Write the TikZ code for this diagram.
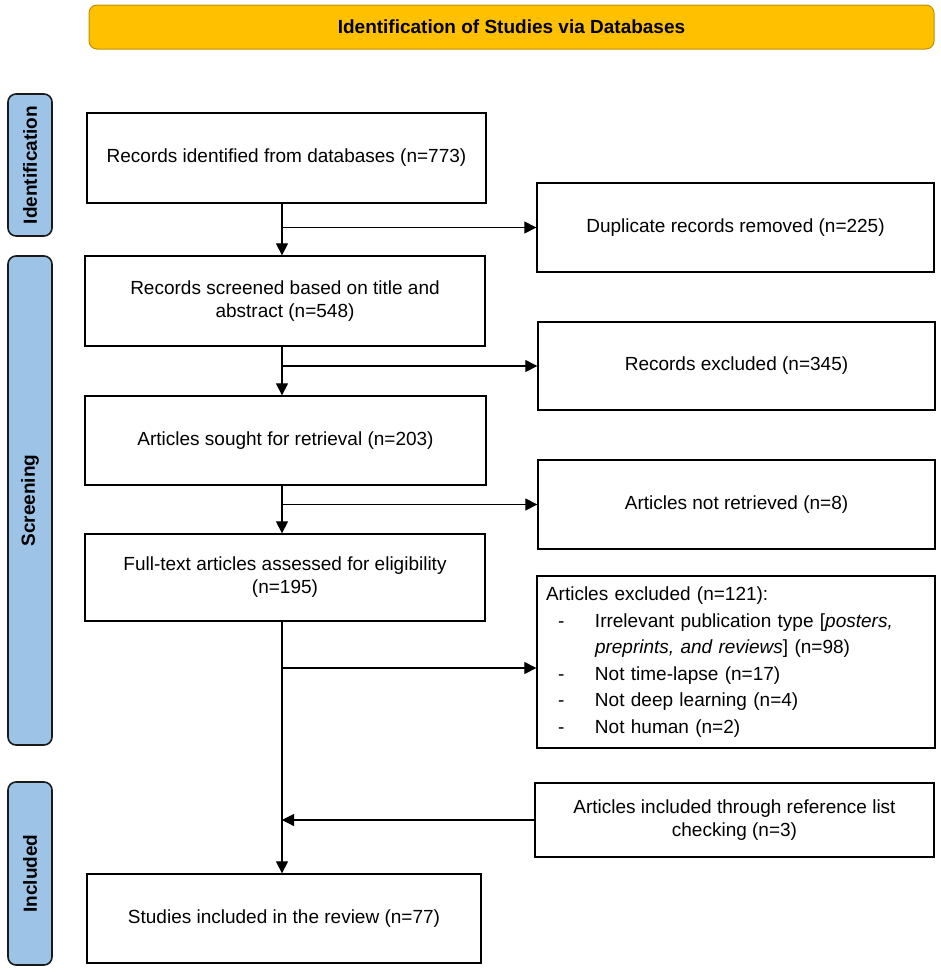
\documentclass[tikz,border=0pt]{standalone}
\usepackage{fontspec}
\setmainfont{Liberation Sans}
\usetikzlibrary{arrows.meta}
\definecolor{titlefill}{HTML}{FFC000}
\definecolor{titledraw}{HTML}{BF9000}
\definecolor{barfill}{HTML}{9DC3E6}
\definecolor{bardraw}{HTML}{1A1A1A}
\begin{document}
\begin{tikzpicture}[x=1pt,y=-1pt,
  box/.style={draw=black, line width=1.3pt, fill=white, align=center,
    font=\fontsize{19}{23}\selectfont, inner sep=4pt},
  bar/.style={draw=bardraw, fill=barfill, line width=1.6pt, rounded corners=8pt,
    rotate=90, font=\fontsize{19}{23}\selectfont\bfseries, minimum height=44pt, inner sep=0pt},
  titlebar/.style={draw=titledraw, fill=titlefill, line width=1pt, rounded corners=8pt,
    font=\fontsize{19}{23}\selectfont\bfseries, minimum width=845pt, minimum height=44pt},
  arr/.style={line width=1.1pt, -{Triangle[length=12pt,width=12pt]}},
  ln/.style={line width=1.1pt}]
\useasboundingbox (0,0) rectangle (941,972);

% title and stage bars
\node[titlebar] (title) at (511.5,27) {Identification of Studies via Databases};
\node[bar, minimum width=142pt] (idbar) at (30,165) {Identification};
\node[bar, minimum width=489pt] (scbar) at (30,500.5) {Screening};
\node[bar, minimum width=183pt] (inbar) at (30,873.5) {Included};

% main column
\node[box, minimum width=399pt, minimum height=90pt] (b1) at (286.5,158) {Records identified from databases (n=773)};
\node[box, minimum width=400pt, minimum height=90pt] (b2) at (285,301) {Records screened based on title and\\abstract (n=548)};
\node[box, minimum width=401pt, minimum height=89pt] (b3) at (285.5,440.5) {Articles sought for retrieval (n=203)};
\node[box, minimum width=400pt, minimum height=87pt] (b4) at (285,577.5) {Full-text articles assessed for eligibility\\(n=195)};
\node[box, minimum width=394pt, minimum height=89pt] (fin) at (284,918.5) {Studies included in the review (n=77)};

% side column
\node[box, minimum width=397pt, minimum height=89pt] (dup) at (735.5,227.5) {Duplicate records removed (n=225)};
\node[box, minimum width=397pt, minimum height=88pt] (rex) at (736.5,366) {Records excluded (n=345)};
\node[box, minimum width=397pt, minimum height=89pt] (nr) at (736.5,504.5) {Articles not retrieved (n=8)};
\node[box, minimum width=398pt, minimum height=172pt, text width=380pt, align=left, inner xsep=9pt,
  font=\fontsize{19}{26.6}\selectfont] (exc) at (736,662) {Articles excluded (n=121):\\
\hspace*{12pt}\makebox[37pt][l]{-}Irrelevant publication type [\textit{posters,}\\
\hspace*{49pt}\textit{preprints, and reviews}] (n=98)\\
\hspace*{12pt}\makebox[37pt][l]{-}Not time-lapse (n=17)\\
\hspace*{12pt}\makebox[37pt][l]{-}Not deep learning (n=4)\\
\hspace*{12pt}\makebox[37pt][l]{-}Not human (n=2)};
\node[box, minimum width=399pt, minimum height=74pt] (ref) at (734.5,820) {Articles included through reference list\\checking (n=3)};

% connectors
\coordinate (mx) at (282,0);
\coordinate (j4) at (282,668);
\draw[arr] (b1.south -| mx) -- (b2.north -| mx);
\draw[arr] (b2.south -| mx) -- (b3.north -| mx);
\draw[arr] (b3.south -| mx) -- (b4.north -| mx);
\draw[arr] (b4.south -| mx) -- (fin.north -| mx);
\draw[arr] (dup.west -| mx) -- (dup.west);
\draw[arr] (rex.west -| mx) -- (rex.west);
\draw[arr] (nr.west -| mx) -- (nr.west);
\draw[arr] (j4) -- (j4 -| exc.west);
\draw[arr] (ref.west) -- (ref.west -| mx);
\end{tikzpicture}
\end{document}
